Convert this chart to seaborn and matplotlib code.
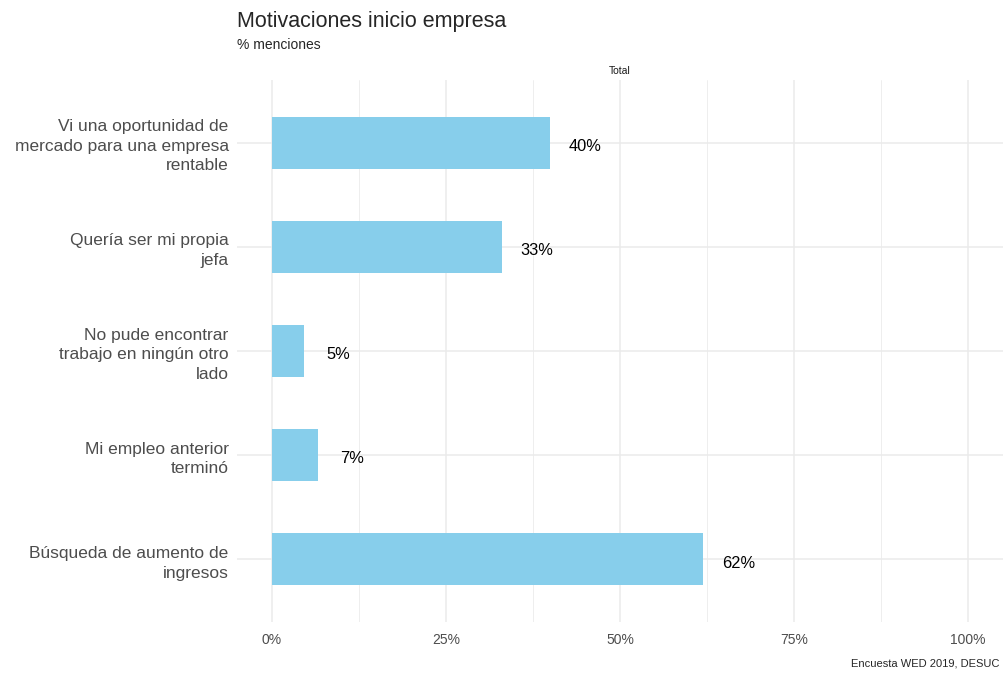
import pandas as pd
import matplotlib
matplotlib.use("Agg")
import matplotlib.pyplot as plt
import seaborn as sns
from matplotlib.ticker import FixedLocator

# Datos
categorias = [
    "Vi una oportunidad de\nmercado para una empresa\nrentable",
    "Quería ser mi propia\njefa",
    "No pude encontrar\ntrabajo en ningún otro\nlado",
    "Mi empleo anterior\nterminó",
    "Búsqueda de aumento de\ningresos",
]
valores = [0.40, 0.33, 0.046, 0.066, 0.62]
etiquetas = ["40%", "33%", "5%", "7%", "62%"]
ticks_x = [0, 0.25, 0.5, 0.75, 1.0]
ticks_lab = ["0%", "25%", "50%", "75%", "100%"]

df = pd.DataFrame({"motivo": categorias, "pct": valores, "lab": etiquetas})

sns.set_style("white")
plt.rcParams["font.family"] = ["Liberation Sans", "DejaVu Sans"]

fig = plt.figure(figsize=(10.05, 6.79), dpi=100)
ax = fig.add_axes([0.2358, 0.084, 0.762, 0.798])

sns.barplot(data=df, x="pct", y="motivo", color="#87CEEB", saturation=1,
            width=0.5, linewidth=0, ax=ax, zorder=3)

for i, row in df.iterrows():
    ax.text(row["pct"] + 0.05, i + 0.02, row["lab"], ha="center", va="center_baseline",
            fontsize=11.8, color="black", zorder=4)

ax.set_xlim(-0.05, 1.05)
ax.set_ylim(4.6, -0.6)
ax.set_xticks(ticks_x)
ax.set_xticklabels(ticks_lab)
ax.xaxis.set_minor_locator(FixedLocator([0.125, 0.375, 0.625, 0.875]))
ax.grid(True, which="major", color="#EBEBEB", linewidth=1.1, zorder=0)
ax.grid(True, which="minor", axis="x", color="#EBEBEB", linewidth=0.6, zorder=0)
ax.set_axisbelow(True)
for s in ax.spines.values():
    s.set_visible(False)
ax.tick_params(axis="both", length=0)
ax.tick_params(axis="x", labelsize=10, labelcolor="#4D4D4D", pad=8)
ax.tick_params(axis="y", labelsize=12.5, labelcolor="#4D4D4D", pad=6)
for t in ax.get_yticklabels():
    t.set_ha("right")
    t.set_multialignment("right")
    t.set_linespacing(1.38)
ax.set_xlabel("")
ax.set_ylabel("")

fig.text(0.2358, 0.968, "Motivaciones inicio empresa", fontsize=15.5, ha="left", va="center")
fig.text(0.2358, 0.934, "% menciones", fontsize=10, ha="left", va="center")
fig.text(0.617, 0.895, "Total", fontsize=7.5, ha="center", va="center", color="#1A1A1A")
fig.text(0.995, 0.015, "Encuesta WED 2019, DESUC", fontsize=8, ha="right", va="bottom")

fig.savefig("out.png", dpi=100)
